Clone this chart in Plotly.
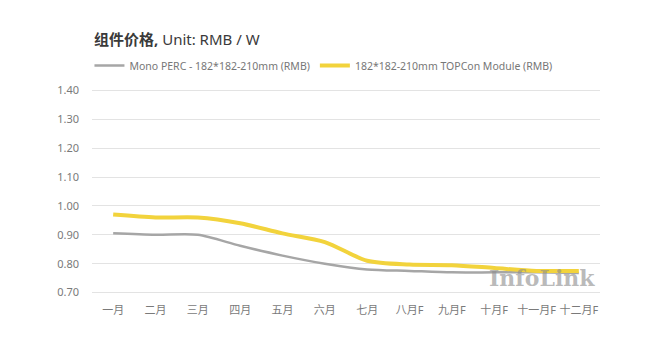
import plotly.graph_objects as go

months = ["一月", "二月", "三月", "四月", "五月", "六月", "七月", "八月F", "九月F", "十月F", "十一月F", "十二月F"]
mono_perc = [0.905, 0.900, 0.900, 0.862, 0.828, 0.800, 0.780, 0.775, 0.770, 0.770, 0.770, 0.768]
topcon = [0.970, 0.960, 0.960, 0.940, 0.905, 0.875, 0.810, 0.797, 0.795, 0.785, 0.775, 0.775]
y_ticks = [0.70, 0.80, 0.90, 1.00, 1.10, 1.20, 1.30, 1.40]

FONT = "Noto Sans, Noto Sans CJK SC, sans-serif"

fig = go.Figure()
fig.add_trace(go.Scatter(
    x=months, y=mono_perc, mode="lines",
    name="Mono PERC - 182*182-210mm (RMB)",
    line=dict(color="#a6a6a6", width=2.5, shape="spline", smoothing=0.8),
))
fig.add_trace(go.Scatter(
    x=months, y=topcon, mode="lines",
    name="182*182-210mm TOPCon Module (RMB)",
    line=dict(color="#f2d33c", width=4, shape="spline", smoothing=0.8),
))

fig.update_layout(
    width=646, height=343,
    margin=dict(l=92, r=46, t=89, b=49),
    paper_bgcolor="white", plot_bgcolor="white",
    font=dict(family=FONT, color="#7a7a7a", size=11),
    showlegend=True,
    legend=dict(
        orientation="h", x=-0.005, y=1.115, xanchor="left", yanchor="middle",
        font=dict(size=10.5, color="#777777", family=FONT),
        traceorder="normal",
    ),
    annotations=[
        dict(
            text="<b>组件价格,</b> Unit: RMB / W",
            x=0.0, y=1.245, xref="paper", yref="paper",
            xanchor="left", yanchor="middle", showarrow=False,
            font=dict(size=15, color="#3a3a3a", family=FONT),
        ),
        dict(
            text="<b>InfoLink</b>",
            x=0.995, y=0.08, xref="paper", yref="paper",
            xanchor="right", yanchor="middle", showarrow=False,
            font=dict(size=22, color="rgba(140,140,140,0.6)", family="DejaVu Serif, serif"),
        ),
    ],
)
fig.update_xaxes(
    type="category", range=[-0.5, len(months) - 0.5],
    showgrid=False, zeroline=False, showline=False,
    ticks="", ticklabelstandoff=8,
    tickfont=dict(size=11, color="#7a7a7a"),
)
fig.update_yaxes(
    range=[0.695, 1.405], tickvals=y_ticks,
    ticktext=[f"{v:.2f}" for v in y_ticks],
    showgrid=True, gridcolor="#e3e3e3", gridwidth=1,
    zeroline=False, showline=False, ticks="",
    ticklabelstandoff=12,
    tickfont=dict(size=11, color="#7a7a7a"),
)

fig.write_html("out.html")
